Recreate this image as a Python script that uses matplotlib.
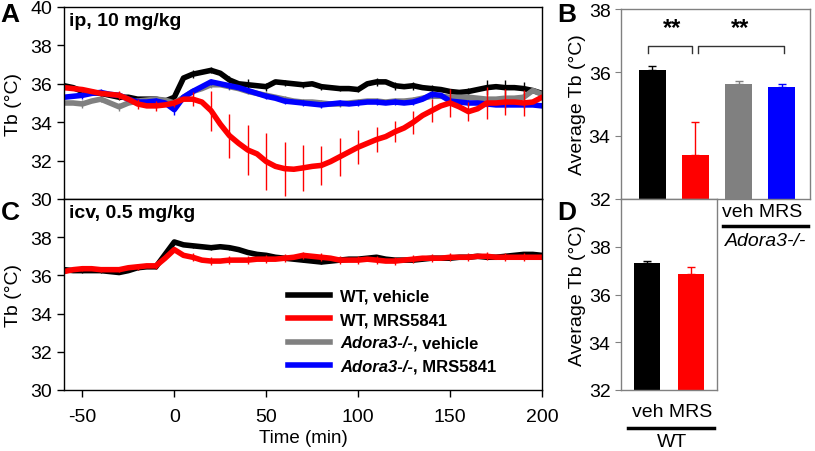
import numpy as np
import matplotlib.pyplot as plt
from matplotlib.lines import Line2D
from matplotlib.font_manager import FontProperties

plt.rcParams['font.family'] = ['Liberation Sans', 'DejaVu Sans']
plt.rcParams['axes.unicode_minus'] = False

# time axis (min), 5 min bins
time = np.arange(-60, 205, 5)

# --- panel A: ip, 10 mg/kg ---
wt_veh_ip = [35.9, 35.8, 35.6, 35.55, 35.5, 35.4, 35.3, 35.3, 35.2, 35.2, 35.2, 35.1,
             35.3, 36.3, 36.5, 36.6, 36.7, 36.55, 36.2, 36.0, 35.95, 35.9, 35.85, 36.1,
             36.05, 36.0, 35.95, 36.0, 35.85, 35.8, 35.75, 35.75, 35.7, 36.0, 36.1, 36.1,
             35.9, 35.85, 35.9, 35.8, 35.75, 35.7, 35.6, 35.55, 35.6, 35.7, 35.8, 35.85,
             35.8, 35.8, 35.75, 35.65, 35.5]
wt_mrs_ip = [35.8, 35.75, 35.7, 35.6, 35.5, 35.45, 35.4, 35.2, 34.95, 34.85, 34.85, 34.9,
             35.0, 35.2, 35.2, 35.05, 34.6, 33.9, 33.3, 32.9, 32.55, 32.35, 31.95, 31.7,
             31.58, 31.55, 31.62, 31.7, 31.75, 31.95, 32.2, 32.45, 32.7, 32.9, 33.1, 33.25,
             33.5, 33.7, 34.0, 34.35, 34.6, 34.85, 35.0, 34.8, 34.55, 34.7, 35.0, 35.0,
             35.05, 35.05, 35.0, 35.05, 35.3]
ko_veh_ip = [35.0, 35.0, 34.95, 35.1, 35.2, 35.0, 34.8, 35.0, 35.1, 35.15, 35.2, 35.15,
             35.0, 35.3, 35.6, 35.75, 35.95, 35.95, 35.85, 35.75, 35.6, 35.5, 35.4, 35.3,
             35.2, 35.1, 35.05, 35.05, 35.0, 34.95, 34.95, 35.0, 35.05, 35.1, 35.1, 35.05,
             35.1, 35.1, 35.15, 35.25, 35.35, 35.35, 35.3, 35.3, 35.3, 35.25, 35.2, 35.2,
             35.25, 35.25, 35.3, 35.65, 35.45]
ko_mrs_ip = [35.3, 35.35, 35.4, 35.5, 35.55, 35.45, 35.4, 35.2, 35.05, 35.05, 35.1, 35.0,
             34.65, 35.3, 35.6, 35.85, 36.1, 36.0, 35.9, 35.8, 35.65, 35.5, 35.35, 35.25,
             35.1, 35.05, 35.0, 34.95, 34.9, 34.95, 35.0, 34.95, 35.0, 35.05, 35.05, 35.0,
             35.05, 35.0, 35.05, 35.2, 35.45, 35.4, 35.1, 35.05, 35.0, 35.0, 34.95, 34.9,
             34.9, 34.9, 34.9, 34.9, 34.85]

# SEM every 10 min (-50 ... 190)
err_time = np.arange(-50, 200, 10)
wt_veh_ip_sem = [0.2, 0.15, 0.15, 0.1, 0.1, 0.15, 0.2, 0.15, 0.2, 0.3, 0.2, 0.15, 0.15,
                 0.15, 0.15, 0.15, 0.2, 0.2, 0.2, 0.2, 0.15, 0.2, 0.4, 0.4, 0.35]
wt_mrs_ip_sem = [0.15, 0.15, 0.2, 0.25, 0.25, 0.2, 0.35, 1.05, 1.15, 1.3, 1.5, 1.4, 1.2,
                 1.0, 1.0, 0.9, 0.65, 0.55, 0.6, 0.6, 0.75, 0.5, 0.85, 0.7, 0.7]
ko_veh_ip_sem = [0.2, 0.15, 0.2, 0.15, 0.15, 0.15, 0.15, 0.15, 0.15, 0.15, 0.15, 0.15, 0.15,
                 0.15, 0.15, 0.15, 0.15, 0.15, 0.15, 0.15, 0.15, 0.15, 0.15, 0.15, 0.2]
ko_mrs_ip_sem = [0.2, 0.2, 0.15, 0.2, 0.15, 0.25, 0.2, 0.15, 0.15, 0.15, 0.15, 0.15, 0.15,
                 0.15, 0.15, 0.15, 0.15, 0.15, 0.15, 0.2, 0.15, 0.15, 0.15, 0.15, 0.15]

# --- panel C: icv, 0.5 mg/kg ---
wt_veh_icv = [36.3, 36.25, 36.25, 36.25, 36.25, 36.2, 36.15, 36.25, 36.4, 36.45, 36.45, 37.1,
              37.75, 37.6, 37.55, 37.5, 37.45, 37.5, 37.45, 37.35, 37.2, 37.1, 37.05, 36.95,
              36.9, 36.85, 36.8, 36.75, 36.7, 36.75, 36.8, 36.85, 36.85, 36.9, 36.95, 36.85,
              36.8, 36.8, 36.8, 36.85, 36.9, 36.9, 36.9, 36.95, 36.95, 37.0, 36.95, 36.95,
              37.0, 37.05, 37.1, 37.1, 37.05]
wt_mrs_icv = [36.2, 36.3, 36.35, 36.35, 36.3, 36.3, 36.3, 36.4, 36.45, 36.5, 36.5, 36.9,
              37.35, 37.05, 36.95, 36.8, 36.75, 36.75, 36.8, 36.8, 36.8, 36.85, 36.85, 36.85,
              36.9, 36.95, 37.05, 37.0, 36.95, 36.9, 36.8, 36.8, 36.8, 36.85, 36.8, 36.75,
              36.75, 36.8, 36.85, 36.9, 36.9, 36.9, 36.95, 36.95, 36.95, 37.0, 37.0, 36.95,
              36.95, 36.95, 36.95, 36.95, 36.95]
wt_veh_icv_sem = [0.1] * 25
wt_mrs_icv_sem = [0.1, 0.1, 0.1, 0.15, 0.15, 0.15, 0.2, 0.2, 0.2, 0.2, 0.2, 0.2, 0.2,
                  0.2, 0.2, 0.2, 0.2, 0.2, 0.2, 0.2, 0.2, 0.2, 0.2, 0.2, 0.2]

# --- panels B and D: average Tb ---
avg_ip = [36.08, 33.4, 35.63, 35.55]
avg_ip_sem = [0.13, 1.03, 0.1, 0.08]
avg_icv = [37.31, 36.85]
avg_icv_sem = [0.1, 0.31]

black, red, gray, blue = '#000000', '#ff0000', '#808080', '#0000ff'
lw = 4.0
fs = 14

fig = plt.figure(figsize=(8.15, 4.52), dpi=100)
W, H = 815.0, 452.0


def box(l, t, r, b):
    return [l / W, 1 - b / H, (r - l) / W, (b - t) / H]


ax_a = fig.add_axes(box(64, 8, 542, 200))
ax_c = fig.add_axes(box(64, 200, 542, 391))
ax_b = fig.add_axes(box(621, 10, 810, 200))
ax_d = fig.add_axes(box(621, 200, 717, 391))

err_idx = np.searchsorted(time, err_time)


def trace(ax, y, sem, color):
    y = np.asarray(y)
    ax.plot(time, y, color=color, lw=lw, solid_capstyle='round', solid_joinstyle='round')
    ax.errorbar(err_time, y[err_idx], yerr=sem, fmt='none', ecolor=color, elinewidth=1)


# A
trace(ax_a, wt_veh_ip, wt_veh_ip_sem, black)
trace(ax_a, ko_veh_ip, ko_veh_ip_sem, gray)
trace(ax_a, ko_mrs_ip, ko_mrs_ip_sem, blue)
trace(ax_a, wt_mrs_ip, wt_mrs_ip_sem, red)
ax_a.set_xlim(-60, 200)
ax_a.set_ylim(30, 40)
ax_a.set_yticks(range(30, 41, 2))
ax_a.set_xticks([])
ax_a.text(0.01, 0.93, 'ip, 10 mg/kg', transform=ax_a.transAxes, fontsize=14,
          fontweight='bold', va='center')
ax_a.set_ylabel('Tb (°C)', fontsize=fs, labelpad=6)

# C
trace(ax_c, wt_veh_icv, wt_veh_icv_sem, black)
trace(ax_c, wt_mrs_icv, wt_mrs_icv_sem, red)
ax_c.set_xlim(-60, 200)
ax_c.set_ylim(30, 40)
ax_c.set_yticks(range(30, 39, 2))
ax_c.set_xticks(range(-50, 201, 50))
ax_c.text(0.01, 0.93, 'icv, 0.5 mg/kg', transform=ax_c.transAxes, fontsize=14,
          fontweight='bold', va='center')
ax_c.set_ylabel('Tb (°C)', fontsize=fs, labelpad=6)
ax_c.set_xlabel('Time (min)', fontsize=13.5, labelpad=3)

for ax in (ax_a, ax_c):
    ax.tick_params(direction='out', length=5, labelsize=fs, width=1)
    for s in ax.spines.values():
        s.set_linewidth(1)
ax_c.tick_params(axis='x', pad=8)

leg_font = FontProperties(family='Liberation Sans', weight='bold', size=12)
handles = [Line2D([], [], color=c, lw=lw) for c in (black, red, gray, blue)]
leg = ax_c.legend(handles, ['WT, vehicle', 'WT, MRS5841', 'Adora3-/-', 'Adora3-/-'],
                  loc='upper left', bbox_to_anchor=(0.469, 0.53), frameon=False,
                  prop=leg_font, handlelength=2.5,
                  handletextpad=0.6, labelspacing=0.5, borderpad=0, borderaxespad=0)
for txt, rest in zip(leg.get_texts()[2:], [', vehicle', ', MRS5841']):
    txt.set_fontstyle('italic')
    ax_c.annotate(rest, xy=(1, 0), xycoords=txt, va='bottom', ha='left',
                  fontproperties=leg_font, zorder=6)

# B
bar_colors = [black, red, gray, blue]
xb = np.arange(len(avg_ip))
ax_b.bar(xb, avg_ip, width=0.62, color=bar_colors)
for i in xb:
    ax_b.errorbar(xb[i], avg_ip[i], yerr=[[0], [avg_ip_sem[i]]], fmt='none',
                  ecolor=bar_colors[i], elinewidth=1, capsize=3, capthick=1)
ax_b.set_xlim(-0.72, 3.65)
ax_b.set_ylim(32, 38)
ax_b.set_yticks(range(32, 39, 2))
ax_b.set_xticks([])
ax_b.set_ylabel('Average Tb (°C)', fontsize=fs, labelpad=2)

# significance brackets
for x0, x1, xs in [(-0.09, 0.92, 0.45), (1.05, 3.04, 2.03)]:
    ax_b.plot([x0, x0, x1, x1], [36.62, 36.83, 36.83, 36.62], color='#333333', lw=1)
    ax_b.text(xs, 37.05, '**', ha='center', va='bottom', fontsize=17, fontweight='bold')

# D
xd = np.arange(len(avg_icv))
ax_d.bar(xd, avg_icv, width=0.6, color=[black, red])
for i in xd:
    ax_d.errorbar(xd[i], avg_icv[i], yerr=[[0], [avg_icv_sem[i]]], fmt='none',
                  ecolor=bar_colors[i], elinewidth=1, capsize=3, capthick=1)
ax_d.set_xlim(-0.59, 1.59)
ax_d.set_ylim(32, 40)
ax_d.set_yticks(range(32, 39, 2))
ax_d.set_xticks([])
ax_d.set_ylabel('Average Tb (°C)', fontsize=fs, labelpad=2)

for ax in (ax_b, ax_d):
    ax.tick_params(direction='out', length=4, labelsize=fs, color=gray)
    for s in ax.spines.values():
        s.set_color(gray)
        s.set_linewidth(1)

# group labels under bar panels
fig.text(762 / W, 1 - 213 / H, 'veh MRS', ha='center', va='center', fontsize=14)
fig.add_artist(Line2D([723 / W, 808 / W], [1 - 227 / H] * 2, color='black', lw=2.5))
fig.text(766 / W, 1 - 242 / H, 'Adora3-/-', ha='center', va='center', fontsize=14,
         fontstyle='italic')
fig.text(672 / W, 1 - 413 / H, 'veh MRS', ha='center', va='center', fontsize=14)
fig.add_artist(Line2D([628 / W, 714 / W], [1 - 429 / H] * 2, color='black', lw=2.5))
fig.text(672 / W, 1 - 443 / H, 'WT', ha='center', va='center', fontsize=14)

# panel letters
for letter, x, y in [('A', 10, 15), ('B', 567, 15), ('C', 10, 213), ('D', 567, 213)]:
    fig.text(x / W, 1 - y / H, letter, ha='center', va='center', fontsize=19,
             fontweight='bold')

fig.savefig('out.png', dpi=100)
